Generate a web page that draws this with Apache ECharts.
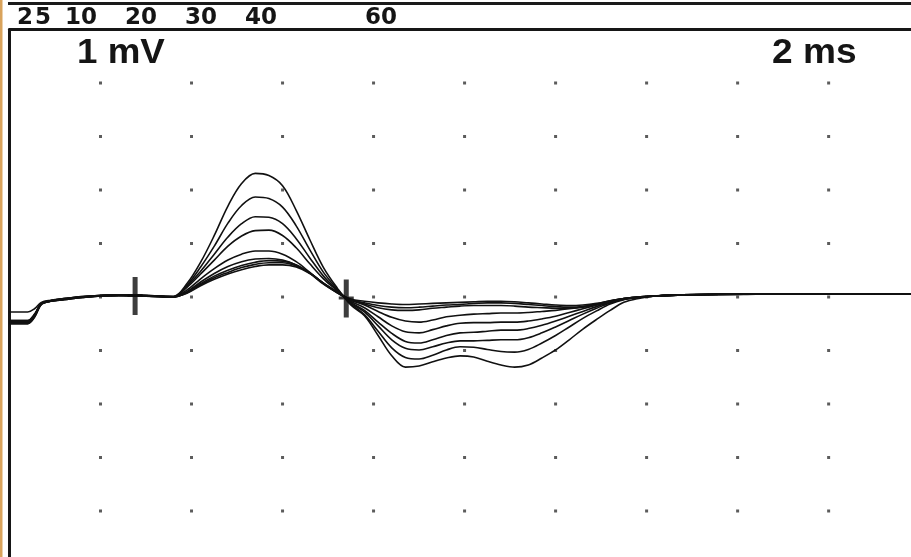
<!DOCTYPE html>
<html>
<head>
<meta charset="utf-8">
<script src="https://cdn.jsdelivr.net/npm/echarts@6/dist/echarts.min.js"></script>
<style>html,body{margin:0;padding:0;background:#fff;}#c{width:911px;height:557px;}</style>
</head>
<body>
<div id="c"></div>
<script>
// time samples (ms)
const times = [0, 0.4, 0.55, 0.7, 0.9, 1.2, 1.6, 2.0, 2.4, 2.8, 3.2, 3.6,
  3.9, 4.2, 4.5, 4.8, 5.1, 5.4, 5.7, 6.0, 6.3, 6.6, 6.9, 7.2,
  7.5, 7.8, 8.1, 8.4, 8.7, 9.0, 9.3, 9.6, 9.9, 10.2, 10.5, 10.8, 11.1, 11.4, 11.7, 12.0, 12.3, 12.6, 12.9, 13.2, 13.5, 13.8, 14.2,
  14.8, 15.6, 16.4, 17.2, 18.0, 18.8, 19.6, 20];

// traces (mV)
const trace1 = [-0.44,-0.44,-0.32,-0.12,-0.07,-0.04,-0.01,0.02,0.03,0.03,0.02,0.01,
  0.25,0.65,1.15,1.70,2.12,2.31,2.27,2.08,1.62,1.07,0.55,0.17,
  -0.15,-0.35,-0.72,-1.10,-1.31,-1.29,-1.21,-1.14,-1.10,-1.12,-1.20,-1.27,-1.31,-1.27,-1.14,-0.99,-0.80,-0.60,-0.42,-0.25,-0.10,-0.03,0.02,
  0.04,0.05,0.05,0.06,0.06,0.06,0.05,0.05];
const trace2 = [-0.48,-0.48,-0.36,-0.13,-0.08,-0.04,0.00,0.02,0.03,0.03,0.02,0.00,
  0.22,0.56,0.95,1.38,1.71,1.87,1.84,1.68,1.33,0.88,0.46,0.15,
  -0.13,-0.33,-0.64,-0.95,-1.13,-1.16,-1.09,-0.99,-0.93,-0.94,-0.98,-1.02,-1.03,-0.98,-0.86,-0.72,-0.56,-0.40,-0.26,-0.13,-0.05,-0.01,0.02,
  0.04,0.05,0.06,0.06,0.06,0.05,0.05,0.05];
const trace3 = [-0.46,-0.46,-0.34,-0.12,-0.07,-0.03,0.01,0.03,0.04,0.02,0.01,0.00,
  0.20,0.48,0.80,1.12,1.37,1.50,1.49,1.37,1.09,0.73,0.39,0.13,
  -0.11,-0.28,-0.54,-0.80,-0.96,-0.99,-0.93,-0.86,-0.82,-0.82,-0.81,-0.80,-0.80,-0.76,-0.67,-0.56,-0.44,-0.32,-0.21,-0.11,-0.04,-0.01,0.02,
  0.04,0.05,0.05,0.06,0.06,0.06,0.06,0.05];
const trace4 = [-0.50,-0.50,-0.38,-0.14,-0.08,-0.05,-0.01,0.02,0.03,0.02,0.01,0.00,
  0.18,0.43,0.69,0.95,1.14,1.24,1.25,1.15,0.92,0.62,0.34,0.12,
  -0.10,-0.25,-0.47,-0.68,-0.83,-0.86,-0.80,-0.72,-0.67,-0.66,-0.64,-0.62,-0.62,-0.59,-0.53,-0.45,-0.36,-0.27,-0.18,-0.10,-0.04,-0.01,0.02,
  0.04,0.04,0.05,0.06,0.05,0.06,0.05,0.05];
const trace5 = [-0.44,-0.44,-0.33,-0.12,-0.07,-0.04,0.00,0.02,0.03,0.03,0.02,0.01,
  0.13,0.34,0.53,0.69,0.80,0.86,0.86,0.80,0.66,0.46,0.25,0.09,
  -0.08,-0.20,-0.37,-0.54,-0.65,-0.67,-0.61,-0.54,-0.49,-0.48,-0.48,-0.47,-0.47,-0.45,-0.41,-0.36,-0.29,-0.22,-0.15,-0.08,-0.03,0.00,0.02,
  0.04,0.05,0.05,0.05,0.06,0.06,0.05,0.05];
const trace6 = [-0.48,-0.48,-0.35,-0.13,-0.08,-0.04,0.00,0.02,0.03,0.03,0.02,0.00,
  0.10,0.28,0.44,0.57,0.66,0.71,0.72,0.69,0.60,0.44,0.24,0.08,
  -0.06,-0.15,-0.27,-0.38,-0.45,-0.47,-0.43,-0.37,-0.34,-0.32,-0.31,-0.30,-0.30,-0.29,-0.27,-0.25,-0.22,-0.18,-0.13,-0.07,-0.03,0.00,0.02,
  0.04,0.05,0.05,0.06,0.06,0.05,0.06,0.05];
const trace7 = [-0.46,-0.46,-0.34,-0.12,-0.07,-0.03,0.01,0.03,0.04,0.02,0.01,0.00,
  0.09,0.25,0.39,0.50,0.59,0.65,0.68,0.67,0.60,0.45,0.25,0.08,
  -0.04,-0.08,-0.11,-0.13,-0.14,-0.13,-0.12,-0.11,-0.10,-0.09,-0.08,-0.08,-0.09,-0.11,-0.13,-0.15,-0.16,-0.15,-0.12,-0.07,-0.03,0.00,0.02,
  0.04,0.05,0.06,0.06,0.05,0.05,0.06,0.06];
const trace8 = [-0.50,-0.50,-0.37,-0.14,-0.08,-0.05,-0.01,0.02,0.03,0.02,0.01,0.00,
  0.08,0.23,0.36,0.46,0.55,0.61,0.64,0.64,0.58,0.45,0.26,0.09,
  -0.05,-0.11,-0.16,-0.19,-0.20,-0.19,-0.17,-0.15,-0.14,-0.12,-0.11,-0.11,-0.12,-0.14,-0.16,-0.18,-0.19,-0.18,-0.14,-0.08,-0.03,0.00,0.02,
  0.04,0.05,0.05,0.06,0.06,0.06,0.05,0.05];
const trace9 = [-0.28,-0.28,-0.22,-0.10,-0.06,-0.03,0.00,0.03,0.04,0.03,0.02,0.01,
  0.07,0.21,0.33,0.43,0.51,0.57,0.60,0.60,0.56,0.44,0.26,0.10,
  -0.05,-0.13,-0.20,-0.24,-0.25,-0.24,-0.21,-0.19,-0.17,-0.16,-0.16,-0.16,-0.17,-0.19,-0.20,-0.21,-0.21,-0.19,-0.15,-0.09,-0.04,-0.01,0.02,
  0.04,0.05,0.05,0.05,0.06,0.06,0.05,0.05];
const traces = [trace1, trace2, trace3, trace4, trace5, trace6, trace7, trace8, trace9];

// cursor marks
const cursorTimes = [2.76, 7.40];
const cursorValues = [0.02, -0.03];

// dotted grid positions (division ticks: 2 ms, 1 mV)
const xDivTicks = [2, 4, 6, 8, 10, 12, 14, 16, 18];
const yDivTicks = [-4, -3, -2, -1, 0, 1, 2, 3, 4];

// visible window of the sweep (screen is cropped at right and bottom)
const xRange = [0, 19.81];
const yRange = [-4.86, 5];

// top strip labels
const topLabels = [1, 2, 5, 10, 20, 30, 40, 60];

// scale labels
const voltLabel = '1 mV';
const timeLabel = '2 ms';

const chart = echarts.init(document.getElementById('c'), null, {renderer: 'canvas'});

const dots = [];
xDivTicks.forEach(x => yDivTicks.forEach(y => dots.push([x, y])));

const series = [{
  type: 'scatter', xAxisIndex: 0, yAxisIndex: 0, data: dots,
  symbol: 'rect', symbolSize: 3, itemStyle: {color: '#333'}, silent: true, z: 1
}];
traces.forEach(tr => {
  series.push({
    type: 'line', xAxisIndex: 0, yAxisIndex: 0,
    data: times.map((t, i) => [t, tr[i]]),
    showSymbol: false, smooth: 0.35,
    lineStyle: {color: '#111', width: 1.6}, silent: true, z: 3
  });
});
series.push({
  type: 'scatter', xAxisIndex: 0, yAxisIndex: 0,
  data: cursorTimes.map((t, i) => [t, cursorValues[i]]),
  symbol: 'path://M4,0 H9 V17 H14 V20 H9 V38 H4 V20 H-1 V17 H4 Z',
  symbolSize: [15, 38], itemStyle: {color: '#0d0d0d'}, silent: true, z: 5
});

const frameLine = {show: true, onZero: false, lineStyle: {color: '#161616', width: 3}};

chart.setOption({
  animation: false,
  backgroundColor: '#ffffff',
  grid: [
    {left: 9.5, top: 29.5, right: 0, bottom: 0, show: false},
    {left: 5, top: 29.5, width: 900, height: 1, show: false}
  ],
  xAxis: [
    {gridIndex: 0, type: 'value', min: xRange[0], max: xRange[1], position: 'top',
      axisLine: frameLine, axisTick: {show: false}, axisLabel: {show: false}, splitLine: {show: false}},
    {gridIndex: 1, type: 'value', min: 0, max: 150, position: 'top',
      axisLine: {show: false}, axisTick: {show: false}, splitLine: {show: false},
      axisLabel: {customValues: topLabels, align: 'left', verticalAlign: 'middle', margin: 11,
        fontFamily: 'DejaVu Sans', fontWeight: 'bold', fontSize: 23, color: '#151515'}}
  ],
  yAxis: [
    {gridIndex: 0, type: 'value', min: yRange[0], max: yRange[1], position: 'left',
      axisLine: frameLine, axisTick: {show: false}, axisLabel: {show: false}, splitLine: {show: false}},
    {gridIndex: 1, type: 'value', show: false}
  ],
  graphic: [
    {type: 'rect', shape: {x: 0, y: 0, width: 2.5, height: 557}, style: {fill: '#d9a35c'}, z: 10},
    {type: 'rect', shape: {x: 8, y: 2, width: 903, height: 3}, style: {fill: '#1a1a1a'}, z: 10},
    {type: 'text', x: 77, y: 53, originX: 0, scaleX: 1.05,
      style: {text: voltLabel, font: 'bold 35px "Liberation Sans", Arial, sans-serif', fill: '#151515', verticalAlign: 'middle', align: 'left'}, z: 10},
    {type: 'text', x: 772, y: 53, originX: 0, scaleX: 1.06,
      style: {text: timeLabel, font: 'bold 35px "Liberation Sans", Arial, sans-serif', fill: '#151515', verticalAlign: 'middle', align: 'left'}, z: 10}
  ],
  series: series
});
</script>
</body>
</html>
